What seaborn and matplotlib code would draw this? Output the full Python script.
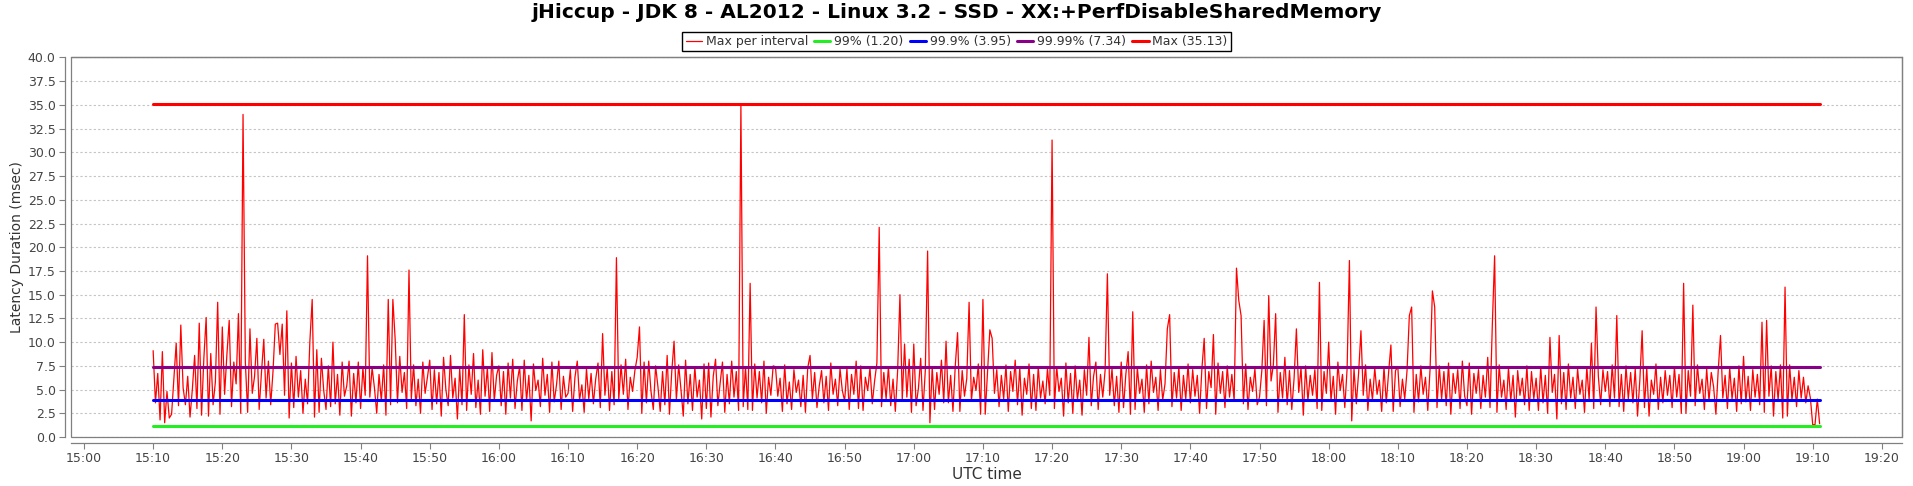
import pandas as pd
import seaborn as sns
import matplotlib.pyplot as plt
import matplotlib.dates as mdates
from matplotlib import font_manager
from matplotlib.patches import Rectangle
from matplotlib.ticker import MultipleLocator, FormatStrFormatter

start_time = "2014-03-01 15:10:00"
step = "20s"

# max latency per interval (msec), 3 samples a minute, one row = 10 minutes
max_per_interval = [
    9.1, 3.6, 6.7, 1.8, 9.0, 1.5, 4.8, 2.0, 2.4, 6.2, 9.9, 3.3, 11.8, 5.2, 3.4, 6.4, 2.1, 5.0, 8.6, 3.0, 12.0, 2.3, 8.3, 12.6, 2.2, 8.8, 3.4, 5.8, 14.2, 2.4,
    11.6, 4.5, 8.7, 12.3, 3.2, 7.9, 5.6, 13.0, 2.5, 34.0, 7.9, 2.6, 11.4, 4.6, 6.4, 10.4, 2.9, 6.8, 10.3, 4.1, 8.0, 3.4, 6.9, 11.9, 12.0, 8.7, 11.9, 4.4, 13.3, 2.0,
    7.8, 3.1, 8.5, 4.2, 7.0, 2.5, 6.1, 3.5, 10.1, 14.5, 2.1, 9.2, 2.6, 8.3, 4.9, 2.9, 7.5, 3.2, 10.0, 3.5, 6.6, 2.3, 7.9, 4.3, 5.4, 8.0, 2.2, 6.7, 3.6, 7.9,
    3.0, 7.3, 4.4, 19.1, 4.2, 7.3, 5.2, 2.5, 6.6, 3.8, 7.6, 2.3, 14.5, 3.4, 14.5, 10.3, 3.6, 8.5, 4.7, 6.8, 3.0, 17.6, 4.0, 7.6, 3.3, 6.1, 2.5, 7.9, 4.6, 6.3,
    8.1, 2.9, 7.1, 3.5, 6.8, 2.2, 8.4, 5.0, 3.3, 8.6, 4.1, 6.2, 1.9, 7.2, 3.4, 12.9, 2.8, 7.6, 4.5, 8.8, 3.1, 6.0, 2.4, 9.2, 4.3, 7.3, 2.7, 8.9, 3.8, 6.5,
    7.5, 3.3, 6.9, 2.4, 7.8, 4.1, 8.2, 3.0, 5.9, 7.4, 2.8, 8.1, 3.8, 6.5, 1.7, 7.7, 4.9, 6.0, 3.2, 8.3, 4.4, 6.6, 2.6, 7.9, 3.7, 5.5, 8.0, 2.9, 6.4, 4.2,
    4.6, 7.1, 2.7, 6.3, 8.0, 3.9, 5.5, 2.6, 7.2, 4.0, 6.7, 3.5, 6.1, 7.8, 3.1, 10.9, 4.4, 7.3, 2.8, 6.9, 3.4, 18.9, 3.9, 7.6, 4.5, 8.2, 2.9, 6.3, 4.8, 7.0,
    8.4, 11.6, 2.5, 7.9, 3.6, 8.0, 4.8, 2.9, 7.5, 5.3, 2.7, 6.9, 3.4, 8.6, 2.4, 6.9, 10.1, 3.9, 7.6, 5.0, 2.2, 8.1, 3.5, 6.6, 2.8, 7.4, 4.2, 6.0, 1.9, 7.7,
    3.0, 7.8, 2.1, 6.4, 8.2, 3.3, 5.7, 7.9, 2.6, 6.6, 3.5, 8.0, 4.2, 6.9, 2.8, 35.1, 3.2, 7.4, 2.9, 16.2, 2.8, 7.7, 4.1, 6.9, 3.6, 8.0, 2.5, 6.3, 4.4, 7.5,
    7.4, 4.3, 6.2, 2.7, 7.6, 3.5, 5.8, 2.9, 7.1, 4.7, 6.0, 3.2, 6.5, 2.6, 7.3, 8.6, 4.0, 6.8, 3.1, 5.4, 7.0, 3.6, 6.4, 2.8, 7.8, 4.5, 6.1, 3.3, 7.2, 4.9,
    3.8, 7.2, 2.9, 6.6, 4.5, 8.0, 3.0, 7.5, 2.8, 6.3, 4.9, 7.3, 3.5, 5.9, 7.8, 22.1, 3.2, 6.8, 4.0, 7.4, 3.3, 6.1, 2.7, 7.0, 15.0, 3.9, 9.8, 4.2, 8.2, 2.6,
    9.8, 3.3, 5.1, 8.3, 2.8, 7.0, 19.6, 1.5, 7.4, 2.9, 6.8, 4.5, 8.1, 3.6, 10.1, 3.6, 6.5, 2.7, 7.5, 11.0, 2.7, 7.0, 4.3, 6.2, 14.2, 3.8, 6.3, 4.9, 7.7, 2.4,
    14.5, 2.4, 6.8, 11.3, 10.4, 4.6, 7.1, 3.2, 6.5, 4.0, 7.6, 2.7, 6.9, 4.8, 8.1, 3.4, 7.3, 2.3, 6.2, 4.5, 7.7, 3.0, 6.6, 2.8, 7.4, 4.1, 5.9, 3.5, 7.2, 4.4,
    31.3, 3.0, 7.4, 4.8, 6.2, 2.2, 7.8, 3.6, 6.7, 2.5, 7.5, 3.9, 6.0, 2.3, 7.1, 4.4, 10.5, 3.3, 6.4, 7.9, 2.9, 6.6, 4.2, 7.0, 17.2, 4.4, 7.2, 3.3, 6.4, 2.6,
    7.9, 3.1, 6.6, 9.0, 2.4, 13.2, 2.9, 7.3, 4.6, 6.1, 2.6, 7.6, 3.5, 8.0, 4.7, 6.3, 2.8, 7.1, 3.9, 5.6, 11.4, 12.9, 3.2, 6.8, 4.1, 7.4, 2.8, 6.5, 4.0, 7.7,
    3.6, 7.1, 4.3, 6.5, 2.5, 7.2, 10.4, 3.0, 6.9, 5.2, 10.8, 2.4, 7.8, 4.6, 6.9, 3.1, 7.5, 4.2, 6.6, 3.8, 17.8, 14.4, 12.8, 3.5, 7.7, 2.9, 6.3, 4.8, 7.2, 3.4,
    4.2, 7.0, 12.3, 3.3, 14.9, 5.9, 7.6, 13.0, 2.6, 6.8, 4.1, 8.4, 3.4, 7.0, 2.9, 6.2, 11.4, 4.7, 7.3, 2.3, 7.5, 3.8, 6.5, 4.4, 7.1, 3.0, 16.3, 2.8, 6.9, 4.6,
    10.0, 3.8, 6.4, 2.4, 7.9, 4.9, 6.6, 3.1, 7.2, 18.6, 1.7, 7.2, 3.5, 6.8, 11.2, 4.4, 7.6, 2.8, 6.1, 3.9, 7.3, 4.5, 6.0, 2.7, 7.4, 3.6, 6.8, 9.7, 2.7, 7.0,
    7.4, 3.2, 6.1, 4.0, 7.0, 12.8, 13.7, 2.6, 6.6, 3.7, 7.5, 4.5, 6.3, 2.8, 7.2, 15.4, 13.7, 3.1, 7.5, 4.0, 6.9, 3.3, 7.8, 2.4, 6.7, 4.6, 7.1, 3.0, 8.0, 4.3,
    3.3, 7.8, 2.4, 6.7, 4.6, 7.1, 3.0, 6.5, 4.2, 8.4, 3.1, 11.8, 19.1, 2.6, 7.6, 4.2, 6.0, 2.9, 7.3, 3.8, 6.5, 2.1, 7.0, 4.4, 6.2, 3.4, 7.5, 2.8, 6.9, 4.0,
    6.2, 2.8, 7.4, 3.6, 6.5, 2.5, 10.5, 4.7, 6.6, 1.9, 10.7, 3.5, 6.8, 2.9, 7.7, 4.1, 6.3, 3.0, 7.2, 4.5, 6.0, 2.6, 7.4, 3.9, 9.9, 3.0, 13.7, 6.4, 3.4, 7.1,
    4.8, 6.9, 3.2, 7.6, 4.1, 12.8, 3.2, 6.6, 2.7, 7.5, 4.0, 6.8, 3.6, 7.2, 2.2, 6.0, 11.2, 3.1, 7.3, 2.2, 6.0, 4.5, 7.7, 2.9, 6.3, 3.6, 7.0, 4.4, 6.5, 3.1,
    7.4, 4.2, 6.6, 2.5, 16.2, 2.5, 7.0, 4.3, 13.9, 3.3, 7.6, 4.6, 6.1, 2.9, 7.2, 3.8, 6.8, 5.3, 2.4, 7.0, 10.7, 4.1, 6.5, 3.0, 7.3, 4.0, 6.2, 2.7, 7.5, 3.5,
    8.5, 3.7, 6.4, 2.8, 7.1, 4.2, 6.6, 3.4, 12.1, 2.6, 12.3, 4.3, 7.5, 2.2, 6.9, 3.9, 7.6, 2.0, 15.8, 2.2, 7.6, 3.9, 6.3, 3.2, 7.0, 4.1, 6.3, 3.6, 5.4, 4.1,
    1.3, 1.3, 4.0, 1.4,
]

pct_labels = ["99%", "99.9%", "99.99%", "Max"]
pct_values = [1.20, 3.95, 7.34, 35.13]
pct_colors = ["#22ee22", "#0000ff", "#880088", "#ff0000"]

title = "jHiccup - JDK 8 - AL2012 - Linux 3.2 - SSD - XX:+PerfDisableSharedMemory"

df = pd.DataFrame({
    "time": pd.date_range(start_time, periods=len(max_per_interval), freq=step),
    "latency": max_per_interval,
})

sns.set_theme()
sns.set_style("ticks")
plt.rcParams["font.family"] = ["DejaVu Sans"]

fig = plt.figure(figsize=(19.13, 4.86), dpi=100)
ax = fig.add_axes([0.0371, 0.1008, 0.9571, 0.7809])

sns.lineplot(data=df, x="time", y="latency", color="#ff0000", lw=0.9,
             label="Max per interval", ax=ax)

t0, t1 = df["time"].iloc[0], df["time"].iloc[-1]
for lab, val, col in zip(pct_labels, pct_values, pct_colors):
    sns.lineplot(x=[t0, t1], y=[val, val], color=col, lw=2.2,
                 label=f"{lab} ({val:.2f})", ax=ax)

ax.set_xlim(pd.Timestamp("2014-03-01 14:58:07"), pd.Timestamp("2014-03-01 19:22:54"))
ax.set_ylim(0, 40)
ax.xaxis.set_major_locator(mdates.MinuteLocator(byminute=range(0, 60, 10)))
ax.xaxis.set_major_formatter(mdates.DateFormatter("%H:%M"))
ax.yaxis.set_major_locator(MultipleLocator(2.5))
ax.yaxis.set_major_formatter(FormatStrFormatter("%.1f"))

ax.yaxis.grid(True, linestyle=(0, (2, 2)), color="#c4c4c4", lw=0.8)
ax.xaxis.grid(False)
ax.set_axisbelow(True)

ax.tick_params(axis="both", labelsize=9, labelcolor="#444444", color="#808080",
               length=4, width=0.8, pad=3)

for side in ["left", "bottom"]:
    ax.spines[side].set_position(("outward", 4))
for side in ax.spines:
    ax.spines[side].set_color("#808080")
    ax.spines[side].set_linewidth(0.9)
ax.add_patch(Rectangle((0, 0), 1, 1, transform=ax.transAxes, fill=False,
                       edgecolor="#808080", lw=0.9, clip_on=False, zorder=5))

ax.set_xlabel("UTC time", fontsize=11, color="#333333", labelpad=1)
ax.set_ylabel("Latency Duration (msec)", fontsize=10, color="#333333", labelpad=3)

ax.get_legend().remove()
handles, labels = ax.get_legend_handles_labels()
leg = fig.legend(handles, labels, loc="upper center", bbox_to_anchor=(0.5, 0.947),
                 ncol=5, fontsize=9, frameon=True, fancybox=False, framealpha=1,
                 edgecolor="black", handlelength=1.3, handletextpad=0.3,
                 columnspacing=0.5, borderpad=0.25)
leg.get_frame().set_linewidth(1.0)
for t in leg.get_texts():
    t.set_color("#333333")

# condensed bold face if installed, otherwise plain DejaVu
title_family = "DejaVu Sans"
for fam in ["DejaVu Sans Condensed", "Liberation Sans Narrow"]:
    try:
        font_manager.findfont(font_manager.FontProperties(family=fam, weight="bold"),
                              fallback_to_default=False)
        title_family = fam
        break
    except ValueError:
        pass
st = fig.suptitle(title, x=0.5, y=0.993, va="top", fontsize=16, fontweight="bold",
                  family=title_family, color="black")
fig.canvas.draw()
w = st.get_window_extent().width
st.set_fontsize(16 * 849 / w)

fig.savefig("out.png", dpi=100)
